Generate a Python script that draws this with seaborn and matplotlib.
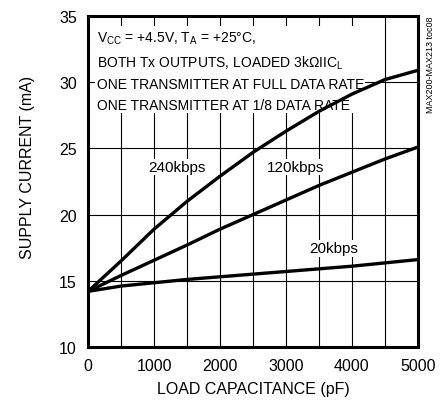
import pandas as pd
import matplotlib
matplotlib.use("Agg")
import matplotlib.pyplot as plt
import seaborn as sns

# load capacitance (pF) sample points
cap_pf = [0, 500, 1000, 1500, 2000, 2500, 3000, 3500, 4000, 4500, 5000]
# supply current (mA) for each data rate
i_240k = [14.2, 16.5, 18.9, 21.0, 22.9, 24.7, 26.3, 27.8, 29.1, 30.2, 30.9]
i_120k = [14.2, 15.4, 16.55, 17.7, 18.9, 20.0, 21.1, 22.2, 23.2, 24.2, 25.1]
i_20k = [14.2, 14.6, 14.85, 15.1, 15.3, 15.5, 15.7, 15.9, 16.1, 16.35, 16.6]
rate_labels = ["240kbps", "120kbps", "20kbps"]

x_ticks = [0, 1000, 2000, 3000, 4000, 5000]
y_ticks = [10, 15, 20, 25, 30, 35]

sns.set_style("white")
plt.rcParams['font.family'] = ['Liberation Sans', 'DejaVu Sans']
plt.rcParams['mathtext.fontset'] = 'custom'
plt.rcParams['mathtext.rm'] = 'Liberation Sans'
plt.rcParams['mathtext.it'] = 'Liberation Sans'
plt.rcParams['text.color'] = 'black'
plt.rcParams['xtick.color'] = 'black'
plt.rcParams['ytick.color'] = 'black'
plt.rcParams['axes.labelcolor'] = 'black'

rows = []
for name, vals in zip(rate_labels, [i_240k, i_120k, i_20k]):
    for c, v in zip(cap_pf, vals):
        rows.append({"cap": c, "current": v, "rate": name})
df = pd.DataFrame(rows)

fig = plt.figure(figsize=(4.45, 4.06), dpi=100)
ax = fig.add_axes([0.198, 0.143, 0.741, 0.815])

sns.lineplot(data=df, x="cap", y="current", units="rate", estimator=None,
             color="black", linewidth=2.4, ax=ax, legend=False, zorder=3)

ax.set_xlim(0, 5000)
ax.set_ylim(10, 35)
ax.set_xticks(x_ticks)
ax.set_yticks(y_ticks)
ax.set_xticks(range(0, 5001, 500), minor=True)
ax.grid(True, which="both", axis="x", color="black", linewidth=0.8, zorder=1)
ax.grid(True, which="major", axis="y", color="black", linewidth=0.8, zorder=1)
ax.set_axisbelow(True)
ax.tick_params(axis="both", which="both", length=0, labelsize=11.5, pad=8)
for sp in ax.spines.values():
    sp.set_linewidth(2.2)
    sp.set_color("black")

ax.set_xlabel("LOAD CAPACITANCE (pF)", fontsize=11.5, labelpad=6)
ax.set_ylabel("SUPPLY CURRENT (mA)", fontsize=11.5)
ax.yaxis.set_label_coords(-0.16, 0.547)

box = dict(facecolor="white", edgecolor="none", pad=1)
ax.text(130, 34.0,
        "V$_{\\rm CC}$ = +4.5V, T$_{\\rm A}$ = +25°C,\n"
        "BOTH Tx OUTPUTS, LOADED 3kΩIIC$_{\\rm L}$\n"
        "ONE TRANSMITTER AT FULL DATA RATE\n"
        "ONE TRANSMITTER AT 1/8 DATA RATE",
        fontsize=10, va="top", ha="left", linespacing=1.6, bbox=box, zorder=2)

ax.text(1350, 23.6, rate_labels[0], fontsize=11, ha="center", va="center", bbox=box, zorder=2)
ax.text(3150, 23.6, rate_labels[1], fontsize=11, ha="center", va="center", bbox=box, zorder=2)
ax.text(3730, 17.45, rate_labels[2], fontsize=11, ha="center", va="center", bbox=box, zorder=2)

fig.text(0.958, 0.96, "MAX200-MAX213 toc08", rotation=90, fontsize=6.5,
         ha="left", va="top")

fig.savefig("out.png", dpi=100)
